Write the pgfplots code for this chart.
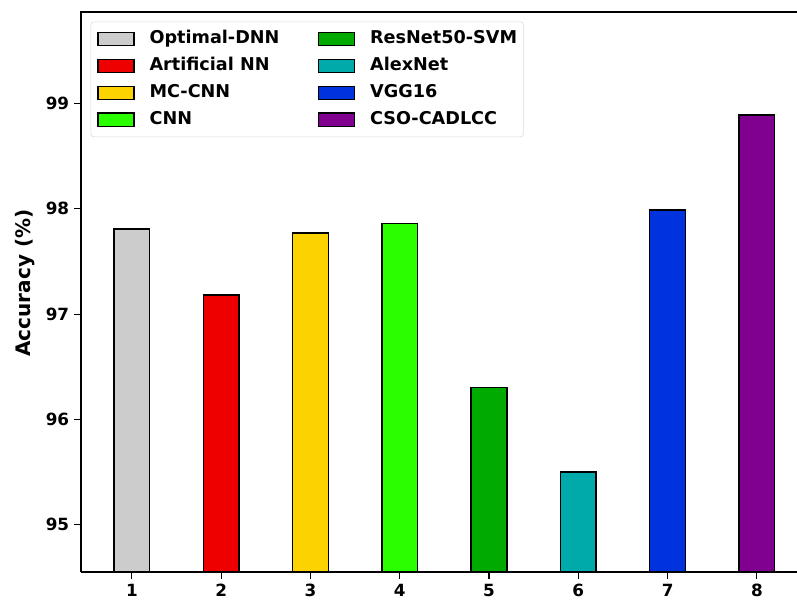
\documentclass[border=0pt]{standalone}
\usepackage{pgfplots}
\pgfplotsset{compat=1.18}
\usepackage{fontspec}
\setmainfont{DejaVu Sans}
\definecolor{cA}{HTML}{CCCCCC}
\definecolor{cB}{HTML}{EE0000}
\definecolor{cC}{HTML}{FCD200}
\definecolor{cD}{HTML}{2AFF00}
\definecolor{cE}{HTML}{00AA00}
\definecolor{cF}{HTML}{00AAAA}
\definecolor{cG}{HTML}{0033DD}
\definecolor{cH}{HTML}{800090}
\pgfplotsset{mybar/.style={fill=#1, draw=black, line width=1pt, bar shift=0pt,
  legend image code/.code={\draw[##1, line width=1pt, sharp corners] (0pt,-4.7pt) rectangle (25.9pt,4.7pt);}}}
\begin{document}
\begin{tikzpicture}
\begin{axis}[
  name=ax,
  scale only axis, width=515.52pt, height=403.2pt,
  xmin=0.43, xmax=8.449, ymin=94.55, ymax=99.87,
  axis x line*=bottom, axis y line*=left,
  axis line style={line width=0.8pt, black},
  xtick={1,2,3,4,5,6,7,8}, ytick={95,96,97,98,99},
  tick align=outside, major tick length=5pt,
  tick style={line width=0.8pt, black},
  minor tick num=0,
  ticklabel style={font=\fontsize{12.1}{14}\selectfont\bfseries},
  /pgf/number format/assume math mode=true,
  ylabel={Accuracy (\%)},
  ylabel style={font=\fontsize{14.4}{16}\selectfont\bfseries, at={(axis description cs:-0.0782,0.516)}, anchor=center},
  ybar, bar width=0.4,
  legend columns=2,
  legend cell align=left,
  legend style={at={(axis description cs:0.0135,0.983)}, anchor=north west,
    draw=black!15, rounded corners=2pt, fill=white,
    inner xsep=4.5pt, inner ysep=6.2pt,
    font=\fontsize{12.7}{15}\selectfont\bfseries,
    nodes={inner sep=0pt, text height=9.5pt, text depth=2.7pt},
    row sep=7.2pt,
    /tikz/every even column/.append style={column sep=27.6pt},
    /tikz/every odd column/.append style={column sep=10.8pt}},
]
\addplot[mybar=cA] coordinates {(1,97.81)};
\addlegendentry{Optimal-DNN}
\addplot[mybar=cE] coordinates {(5,96.30)};
\addlegendentry{ResNet50-SVM}
\addplot[mybar=cB] coordinates {(2,97.18)};
\addlegendentry{Artificial NN}
\addplot[mybar=cF] coordinates {(6,95.50)};
\addlegendentry{AlexNet}
\addplot[mybar=cC] coordinates {(3,97.77)};
\addlegendentry{MC-CNN}
\addplot[mybar=cG] coordinates {(7,97.99)};
\addlegendentry{VGG16}
\addplot[mybar=cD] coordinates {(4,97.86)};
\addlegendentry{CNN}
\addplot[mybar=cH] coordinates {(8,98.89)};
\addlegendentry{CSO-CADLCC}
\end{axis}
\draw[line width=0.8pt, line cap=rect] (ax.north west) -- (ax.north east);
\pgfresetboundingbox
\path (-58.32pt,-22.32pt) rectangle (515.52pt,411.84pt);
\end{tikzpicture}
\end{document}
